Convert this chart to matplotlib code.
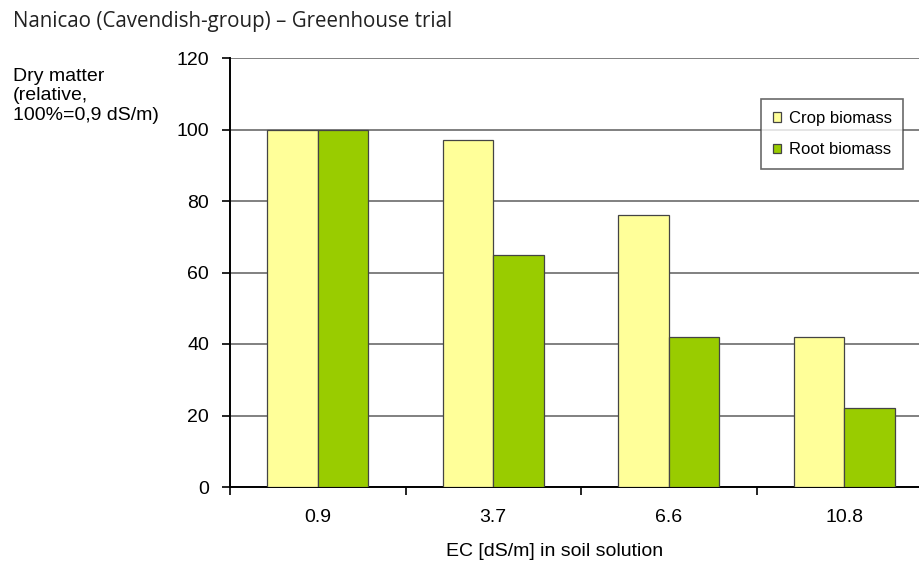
import matplotlib.pyplot as plt
import numpy as np

# data
ec_labels = ['0.9', '3.7', '6.6', '10.8']
crop_biomass = [100, 97, 76, 42]
root_biomass = [100, 65, 42, 22]
y_ticks = [0, 20, 40, 60, 80, 100, 120]

plt.rcParams['font.family'] = ['Liberation Sans', 'DejaVu Sans']

W, H = 919, 570
fig = plt.figure(figsize=(W / 100, H / 100), dpi=100)
# plot area runs past the right edge, as in the cropped original
ax = fig.add_axes([230 / W, 1 - 487 / H, 702 / W, 429 / H])

x = np.arange(len(ec_labels))
w = 0.288
ax.bar(x - w / 2, crop_biomass, w, color='#FFFF99', edgecolor='#444444',
       linewidth=0.9, label='Crop biomass', zorder=3)
ax.bar(x + w / 2, root_biomass, w, color='#99CC00', edgecolor='#444444',
       linewidth=0.9, label='Root biomass', zorder=3)

ax.set_xlim(-0.5, len(ec_labels) - 0.5)
ax.set_ylim(0, 120)
ax.set_yticks(y_ticks)
ax.yaxis.grid(True, color='#808080', linewidth=1.4, zorder=0)
ax.set_axisbelow(True)

ax.set_xticks(x)
ax.set_xticklabels(ec_labels, fontsize=14)
ax.set_xticks(np.arange(-0.5, len(ec_labels)), minor=True)
ax.tick_params(axis='x', which='major', length=0, pad=16)
ax.tick_params(axis='x', which='minor', length=6, width=1.2, direction='out')
ax.tick_params(axis='y', length=6, width=1.2, labelsize=14, pad=9)

for s in ['top', 'right']:
    ax.spines[s].set_visible(False)
ax.spines['left'].set_linewidth(1.4)
ax.spines['bottom'].set_linewidth(1.4)

leg = ax.legend(loc='upper left', bbox_to_anchor=((761 - 230) / 702, (487 - 99) / 429),
                fontsize=12, frameon=True, fancybox=False, edgecolor='#444444',
                handlelength=0.5, handleheight=0.5, handletextpad=0.45,
                labelspacing=1.0, borderpad=0.7, borderaxespad=0)
leg.get_frame().set_linewidth(1.2)

fig.text(13 / W, 1 - 21 / H, 'Nanicao (Cavendish-group) – Greenhouse trial',
         fontsize=14.8, family=['Open Sans', 'DejaVu Sans'], va='center', color='#222222')
fig.text(13 / W, 1 - 96 / H, 'Dry matter\n(relative,\n100%=0,9 dS/m)',
         fontsize=14, va='center', ha='left', linespacing=1.2)
fig.text(555 / W, 1 - 552 / H, 'EC [dS/m] in soil solution',
         fontsize=14, ha='center', va='center')

fig.savefig('out.png', dpi=100)
